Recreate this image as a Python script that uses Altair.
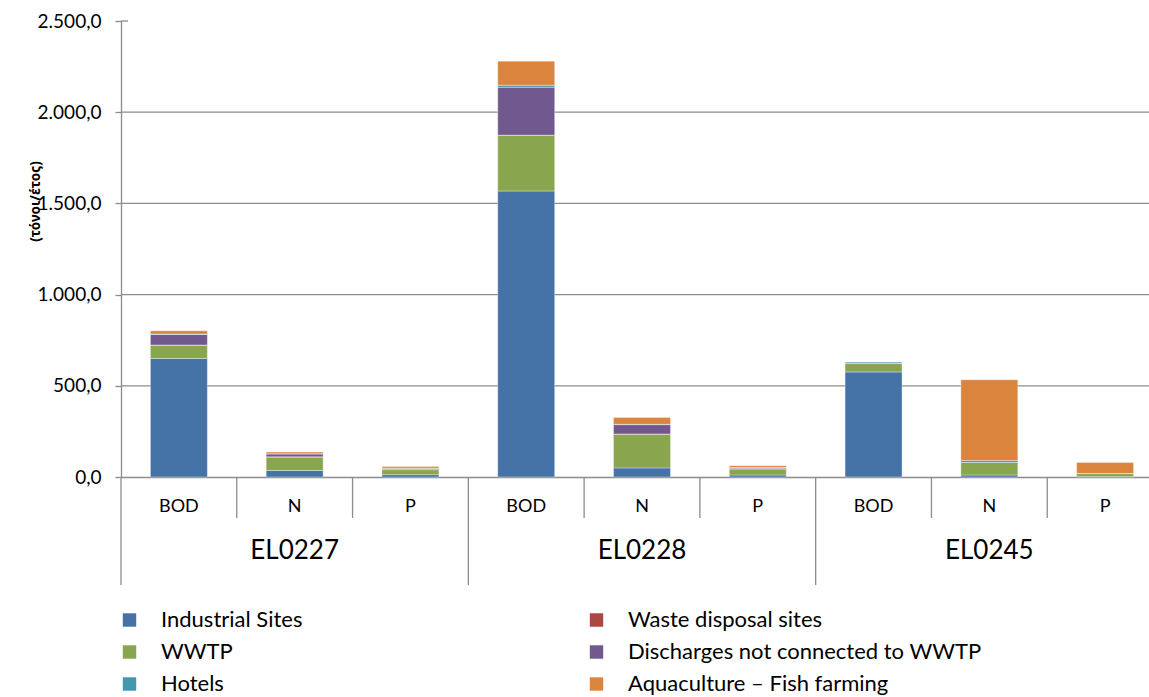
import altair as alt
import pandas as pd

# Water bodies and pollution parameters
groups = ["EL0227", "EL0228", "EL0245"]
params = ["BOD", "N", "P"]

# Pressure sources (stacking order, bottom to top)
sources = [
    "Industrial Sites",
    "WWTP",
    "Waste disposal sites",
    "Discharges not connected to WWTP",
    "Hotels",
    "Aquaculture – Fish farming",
]

# Loads in tonnes/year, one list per source, ordered as groups x params
industrial = [650, 36, 13, 1568, 50, 11, 576, 11, 2]
wwtp = [73, 74, 27, 305, 185, 33, 46, 69, 17]
waste = [0.5, 0.5, 1, 1, 1, 2, 0, 0, 0]
discharges = [58, 16, 6, 263, 51, 5, 0, 0, 0]
hotels = [2, 1, 1, 11, 2, 1, 9, 11, 0.5]
aquaculture = [18, 9, 9, 132, 37, 10, 0, 442, 60]

series = [industrial, wwtp, waste, discharges, hotels, aquaculture]

# Legend entries fill two columns, top to bottom
legend_order = [
    "Industrial Sites",
    "WWTP",
    "Hotels",
    "Waste disposal sites",
    "Discharges not connected to WWTP",
    "Aquaculture – Fish farming",
]
legend_colors = ["#4572A7", "#89A54E", "#4198AF", "#AA4643", "#71588F", "#DB843D"]

y_ticks = [0, 500, 1000, 1500, 2000, 2500]
grid_values = [500, 1000, 1500, 2000]

keys = [f"{g}|{p}" for g in groups for p in params]

rows = []
for rank, (src, vals) in enumerate(zip(sources, series)):
    for k, v in zip(keys, vals):
        g, p = k.split("|")
        rows.append({"key": k, "group": g, "param": p, "source": src, "rank": rank, "value": v})
df = pd.DataFrame(rows)

cat_df = pd.DataFrame({"key": keys, "param": [k.split("|")[1] for k in keys]})
grp_df = pd.DataFrame({"key": [f"{g}|N" for g in groups], "group": groups})
inner_sep = pd.DataFrame({"key": [k for k in keys if not k.endswith("|BOD")]})
group_sep = pd.DataFrame({"key": [k for k in keys if k.endswith("|BOD")]})
grid_df = pd.DataFrame({"v": grid_values})
top_df = pd.DataFrame({"v": [y_ticks[-1]]})

W, H = 1028, 456
FONT = "Lato"
GRID = "#8c8c8c"

x_scale = alt.Scale(domain=keys, paddingInner=0, paddingOuter=0, range=[0, 1042])
y_scale = alt.Scale(domain=[0, 2500], nice=False)

base_x = alt.X(
    "key:N",
    sort=keys,
    scale=x_scale,
    axis=alt.Axis(labels=False, ticks=False, domain=True, domainColor=GRID,
                  domainWidth=1.3, grid=False, title=None),
)

grid = alt.Chart(grid_df).mark_rule(color=GRID, strokeWidth=1.3).encode(
    y=alt.Y("v:Q", scale=y_scale)
)

top_tick = alt.Chart(top_df).mark_rule(color=GRID, strokeWidth=1.3).encode(
    y=alt.Y("v:Q", scale=y_scale), x=alt.value(0), x2=alt.value(7)
)

bars = alt.Chart(df).mark_bar(
    width=alt.RelativeBandSize(0.492), stroke="white", strokeWidth=0.8, strokeOpacity=0.45
).encode(
    x=base_x,
    y=alt.Y(
        "value:Q",
        stack="zero",
        scale=y_scale,
        axis=alt.Axis(
            values=y_ticks,
            labelExpr="replace(replace(replace(format(datum.value, ',.1f'), ',', '_'), '.', ','), '_', '.')",
            grid=False,
            domainColor=GRID,
            domainWidth=1.3,
            tickColor=GRID,
            tickWidth=1.3,
            tickSize=6,
            labelFont=FONT,
            labelFontSize=19,
            labelColor="#000000",
            labelPadding=14,
            title="(τόνοι/έτος)",
            titleFont="Noto Sans",
            titleFontSize=13.5,
            titleFontWeight="bold",
            titleColor="#000000",
            titleAngle=270,
            titleX=-86,
            titleY=180,
            titleAlign="center",
            titleBaseline="middle",
        ),
    ),
    color=alt.Color(
        "source:N",
        scale=alt.Scale(domain=legend_order, range=legend_colors),
        legend=alt.Legend(
            title=None,
            orient="none",
            legendX=-2.5,
            legendY=588,
            columns=2,
            columnPadding=283,
            rowPadding=10,
            symbolType="square",
            symbolSize=180,
            symbolStrokeWidth=0,
            labelFont=FONT,
            labelFontSize=22,
            labelColor="#000000",
            labelOffset=20.5,
            labelLimit=500,
            padding=0,
        ),
    ),
    order=alt.Order("rank:Q"),
)

param_labels = alt.Chart(cat_df).mark_text(
    font=FONT, fontSize=18, color="#000000", baseline="middle"
).encode(x=alt.X("key:N", sort=keys, scale=x_scale), y=alt.value(486), text="param:N")

group_labels = alt.Chart(grp_df).mark_text(
    font=FONT, fontSize=26, color="#000000", baseline="middle"
).encode(x=alt.X("key:N", sort=keys, scale=x_scale), y=alt.value(530), text="group:N")

inner_rules = alt.Chart(inner_sep).mark_rule(color=GRID, strokeWidth=1.3).encode(
    x=alt.X("key:N", sort=keys, scale=x_scale, bandPosition=0),
    y=alt.value(H), y2=alt.value(H + 41),
)

group_rules = alt.Chart(group_sep).mark_rule(color=GRID, strokeWidth=1.3).encode(
    x=alt.X("key:N", sort=keys, scale=x_scale, bandPosition=0),
    y=alt.value(H), y2=alt.value(H + 108),
)

chart = (
    alt.layer(grid, top_tick, bars, param_labels, group_labels, inner_rules, group_rules)
    .properties(
        width=W,
        height=H,
        autosize=alt.AutoSizeParams(type="none"),
        padding={"left": 121, "top": 21, "right": 0, "bottom": 220},
        background="white",
    )
    .configure_view(stroke=None)
)

chart.save("out.html", embed_options={"renderer": "svg", "actions": False})
